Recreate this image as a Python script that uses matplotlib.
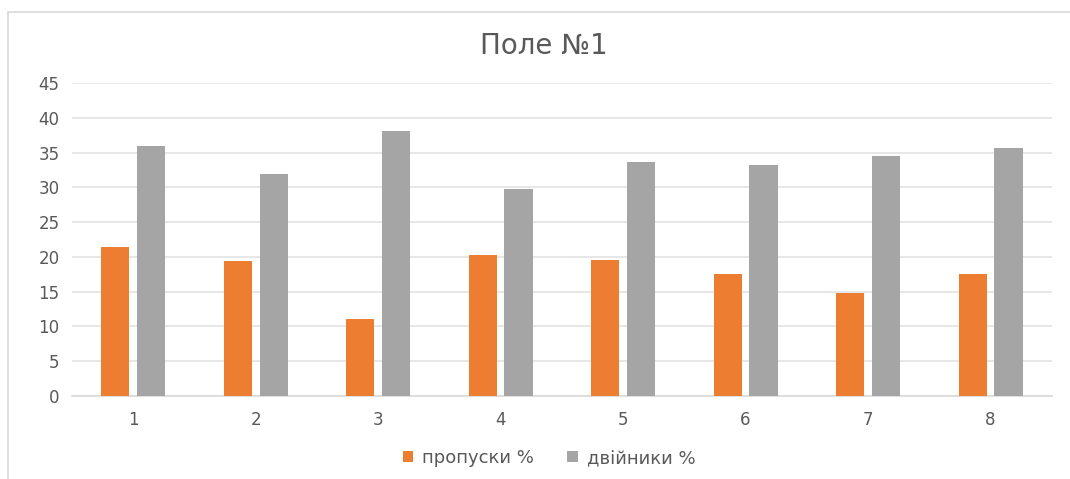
import numpy as np
import matplotlib.pyplot as plt
from matplotlib.patches import Rectangle

plt.rcParams["font.family"] = ["DejaVu Sans"]

categories = ["1", "2", "3", "4", "5", "6", "7", "8"]
gaps = [21.4, 19.4, 11.1, 20.3, 19.6, 17.6, 14.8, 17.6]
doubles = [36.0, 31.9, 38.1, 29.7, 33.6, 33.2, 34.5, 35.6]

orange = "#ED7D31"
grey = "#A5A5A5"
text_col = "#595959"

fig = plt.figure(figsize=(10.7, 4.79), dpi=100)
ax = fig.add_axes([0.0673, 0.1733, 0.9157, 0.6534])

# outer chart frame (only top and left edges fall inside the image)
fig.patches.append(Rectangle((8 / 1070, -0.1), 1.2, 1 - 12 / 479 + 0.1,
                             transform=fig.transFigure, fill=False,
                             edgecolor="#D9D9D9", linewidth=1.2))

x = np.arange(len(categories))
w = 0.23
off = 0.146
ax.bar(x - off, gaps, w, color=orange, label="пропуски %", zorder=3)
ax.bar(x + off, doubles, w, color=grey, label="двійники %", zorder=3)

ax.set_xlim(-0.5, len(categories) - 0.5)
ax.set_ylim(0, 45)
ax.set_yticks(np.arange(0, 46, 5))
ax.set_xticks(x)
ax.set_xticklabels(categories)
ax.yaxis.grid(True, color="#E3E3E3", linewidth=1.2, zorder=0)
ax.tick_params(axis="both", length=0, labelsize=12, colors=text_col)
ax.tick_params(axis="x", pad=11)
ax.tick_params(axis="y", pad=9)
for s in ["top", "right", "left"]:
    ax.spines[s].set_visible(False)
ax.spines["bottom"].set_color("#D9D9D9")
ax.spines["bottom"].set_linewidth(1.2)

fig.text(0.508, 1 - 46 / 479, "Поле №1", ha="center", va="center",
         fontsize=20, color=text_col)

fig.legend(loc="center", bbox_to_anchor=(0.513, 1 - 458 / 479), ncol=2,
           frameon=False, fontsize=13, labelcolor=text_col,
           handlelength=0.6, handleheight=0.6, handletextpad=0.5,
           columnspacing=1.8)

plt.savefig("out.png", dpi=100)
